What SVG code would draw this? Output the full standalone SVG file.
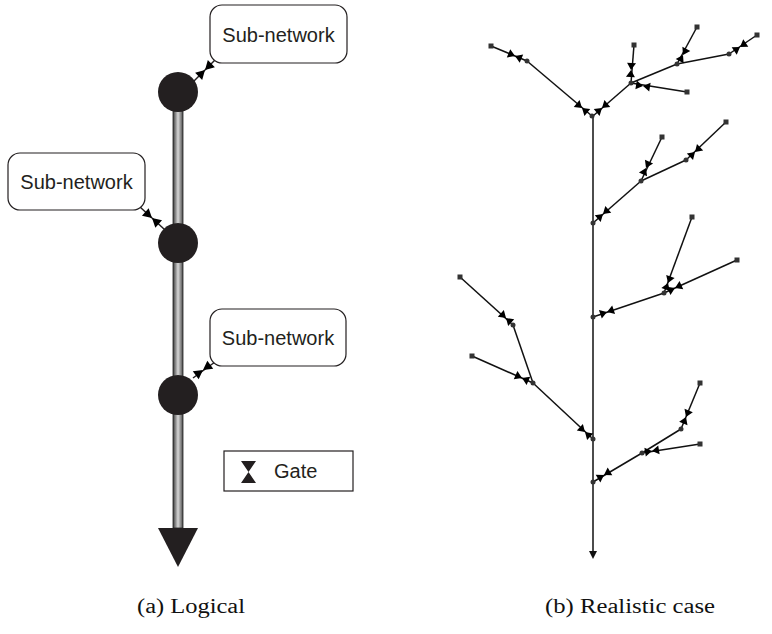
<svg xmlns="http://www.w3.org/2000/svg" xmlns:xlink="http://www.w3.org/1999/xlink" width="772" height="634" viewBox="0 0 772 634">
<style>
.box{fill:#fff;stroke:#231f20;stroke-width:1.2}
.lbl{font-family:"Liberation Sans",Arial,sans-serif;font-size:20px;fill:#231f20}
.cap{font-family:"Liberation Serif","Times New Roman",serif;font-size:20px;fill:#111}
.blob{fill:#231f20}
.lc{stroke:#231f20;stroke-width:1.5;fill:none}
.e{stroke:#111;stroke-width:1.5;fill:none}
.bt{fill:#000}
.leaf{fill:#333}
.jn{fill:#333}
</style>
<defs>
<linearGradient id="pipe" x1="0" y1="0" x2="1" y2="0">
<stop offset="0" stop-color="#3a3a3a"/>
<stop offset="0.5" stop-color="#d8d8d8"/>
<stop offset="1" stop-color="#4a4a4a"/>
</linearGradient>
<path id="btL" d="M-9,-5 L0,0 L-9,5 Z M9,-5 L0,0 L9,5 Z"/>
<path id="bt" d="M-7,-4.5 L0,0 L-7,4.5 Z M7,-4.5 L0,0 L7,4.5 Z"/>
<rect id="sq" x="-2.5" y="-2.5" width="5" height="5"/>
</defs>

<!-- (a) Logical -->
<g id="pipe-bar">
<rect x="173" y="92" width="10" height="436" fill="url(#pipe)" stroke="#222" stroke-width="0.8"/>
<polygon points="158,528 198,528 178,567" class="blob"/>
</g>
<g id="left-connectors">
<line x1="215" y1="60" x2="194" y2="81" class="lc"/>
<use href="#btL" class="bt" transform="translate(205,70) rotate(135)"/>
<line x1="140" y1="207" x2="164" y2="229" class="lc"/>
<use href="#btL" class="bt" transform="translate(152,218) rotate(42)"/>
<line x1="215" y1="362" x2="193" y2="378" class="lc"/>
<use href="#btL" class="bt" transform="translate(203,370) rotate(144)"/>
</g>
<g id="hub1"><circle cx="178" cy="92" r="20" class="blob"/></g>
<g id="hub2"><circle cx="178" cy="243" r="20" class="blob"/></g>
<g id="hub3"><circle cx="178" cy="395" r="20" class="blob"/></g>
<g id="subnet1">
<rect x="210" y="5" width="137" height="58" rx="12" class="box"/>
<text x="278.5" y="42" text-anchor="middle" class="lbl">Sub-network</text>
</g>
<g id="subnet2">
<rect x="8" y="153" width="137" height="57" rx="12" class="box"/>
<text x="76.5" y="189" text-anchor="middle" class="lbl">Sub-network</text>
</g>
<g id="subnet3">
<rect x="210" y="309" width="136" height="57" rx="12" class="box"/>
<text x="278" y="345" text-anchor="middle" class="lbl">Sub-network</text>
</g>
<g id="legend">
<rect x="224" y="451" width="129" height="40" fill="#fff" stroke="#231f20" stroke-width="1.2"/>
<path d="M241,461 L256,461 L248.5,472 Z M241,483 L256,483 L248.5,472 Z" class="blob"/>
<text x="274" y="478" class="lbl">Gate</text>
</g>

<!-- (b) Realistic case -->
<g id="connectors">
<line x1="593" y1="116" x2="593" y2="552" class="e"/>
<polygon points="589,551 597,551 593,559" fill="#111"/>
<line x1="491" y1="46" x2="527" y2="61" class="e"/>
<line x1="527" y1="61" x2="592" y2="116" class="e"/>
<line x1="631" y1="83" x2="593" y2="116" class="e"/>
<line x1="634" y1="45" x2="631" y2="83" class="e"/>
<line x1="687" y1="92" x2="631" y2="83" class="e"/>
<line x1="677" y1="64" x2="631" y2="83" class="e"/>
<line x1="697" y1="27" x2="677" y2="64" class="e"/>
<line x1="729" y1="54" x2="677" y2="64" class="e"/>
<line x1="757" y1="35" x2="729" y2="54" class="e"/>
<line x1="641" y1="181" x2="593" y2="223" class="e"/>
<line x1="662" y1="137" x2="641" y2="181" class="e"/>
<line x1="686" y1="160" x2="641" y2="181" class="e"/>
<line x1="726" y1="122" x2="686" y2="160" class="e"/>
<line x1="664" y1="293" x2="593" y2="317" class="e"/>
<line x1="692" y1="217" x2="664" y2="293" class="e"/>
<line x1="737" y1="260" x2="664" y2="293" class="e"/>
<line x1="460" y1="277" x2="513" y2="325" class="e"/>
<line x1="472" y1="356" x2="533" y2="383" class="e"/>
<line x1="513" y1="325" x2="533" y2="383" class="e"/>
<line x1="533" y1="383" x2="593" y2="439" class="e"/>
<line x1="700" y1="383" x2="681" y2="429" class="e"/>
<line x1="681" y1="429" x2="642" y2="453" class="e"/>
<line x1="700" y1="444" x2="642" y2="453" class="e"/>
<line x1="642" y1="453" x2="593" y2="482" class="e"/>
<g class="bt">
<use href="#bt" transform="translate(515,56) rotate(22.6)"/>
<use href="#bt" transform="translate(582,108) rotate(40.2)"/>
<use href="#bt" transform="translate(602,108) rotate(139.8)"/>
<use href="#bt" transform="translate(631,70) rotate(94.5)"/>
<use href="#bt" transform="translate(643,86) rotate(9)"/>
<use href="#bt" transform="translate(683,55) rotate(118.4)"/>
<use href="#bt" transform="translate(740,47) rotate(145.8)"/>
<use href="#bt" transform="translate(603,214) rotate(138.8)"/>
<use href="#bt" transform="translate(646,168) rotate(115.5)"/>
<use href="#bt" transform="translate(695,152) rotate(136.5)"/>
<use href="#bt" transform="translate(607,312) rotate(161.3)"/>
<use href="#bt" transform="translate(668,283) rotate(110.2)"/>
<use href="#bt" transform="translate(675,288) rotate(155.7)"/>
<use href="#bt" transform="translate(506,318) rotate(42.2)"/>
<use href="#bt" transform="translate(522,378) rotate(23.9)"/>
<use href="#bt" transform="translate(585,432) rotate(42.6)"/>
<use href="#bt" transform="translate(686,417) rotate(112.4)"/>
<use href="#bt" transform="translate(652,451) rotate(171)"/>
<use href="#bt" transform="translate(604,475) rotate(148.9)"/>
</g>
</g>
<g id="trunk-junctions" class="jn">
<circle cx="592" cy="116" r="2.5"/>
<circle cx="593" cy="223" r="2.5"/>
<circle cx="593" cy="317" r="2.5"/>
<circle cx="593" cy="439" r="2.5"/>
<circle cx="593" cy="482" r="2.5"/>
</g>
<g id="junctions" class="jn">
<circle cx="527" cy="61" r="2.5"/>
<circle cx="631" cy="83" r="2.5"/>
<circle cx="677" cy="64" r="2.5"/>
<circle cx="729" cy="54" r="2.5"/>
<circle cx="641" cy="181" r="2.5"/>
<circle cx="686" cy="160" r="2.5"/>
<circle cx="664" cy="293" r="2.5"/>
<circle cx="513" cy="325" r="2.5"/>
<circle cx="533" cy="383" r="2.5"/>
<circle cx="681" cy="429" r="2.5"/>
<circle cx="642" cy="453" r="2.5"/>
</g>
<g id="leaves" class="leaf">
<use href="#sq" x="491" y="46"/>
<use href="#sq" x="634" y="45"/>
<use href="#sq" x="687" y="92"/>
<use href="#sq" x="697" y="27"/>
<use href="#sq" x="757" y="35"/>
<use href="#sq" x="662" y="137"/>
<use href="#sq" x="726" y="122"/>
<use href="#sq" x="692" y="217"/>
<use href="#sq" x="737" y="260"/>
<use href="#sq" x="460" y="277"/>
<use href="#sq" x="472" y="356"/>
<use href="#sq" x="700" y="383"/>
<use href="#sq" x="700" y="444"/>
</g>

<g id="captions">
<text x="137" y="613" class="cap" textLength="108" lengthAdjust="spacingAndGlyphs">(a) Logical</text>
<text x="545" y="613" class="cap" textLength="170" lengthAdjust="spacingAndGlyphs">(b) Realistic case</text>
</g>
</svg>
